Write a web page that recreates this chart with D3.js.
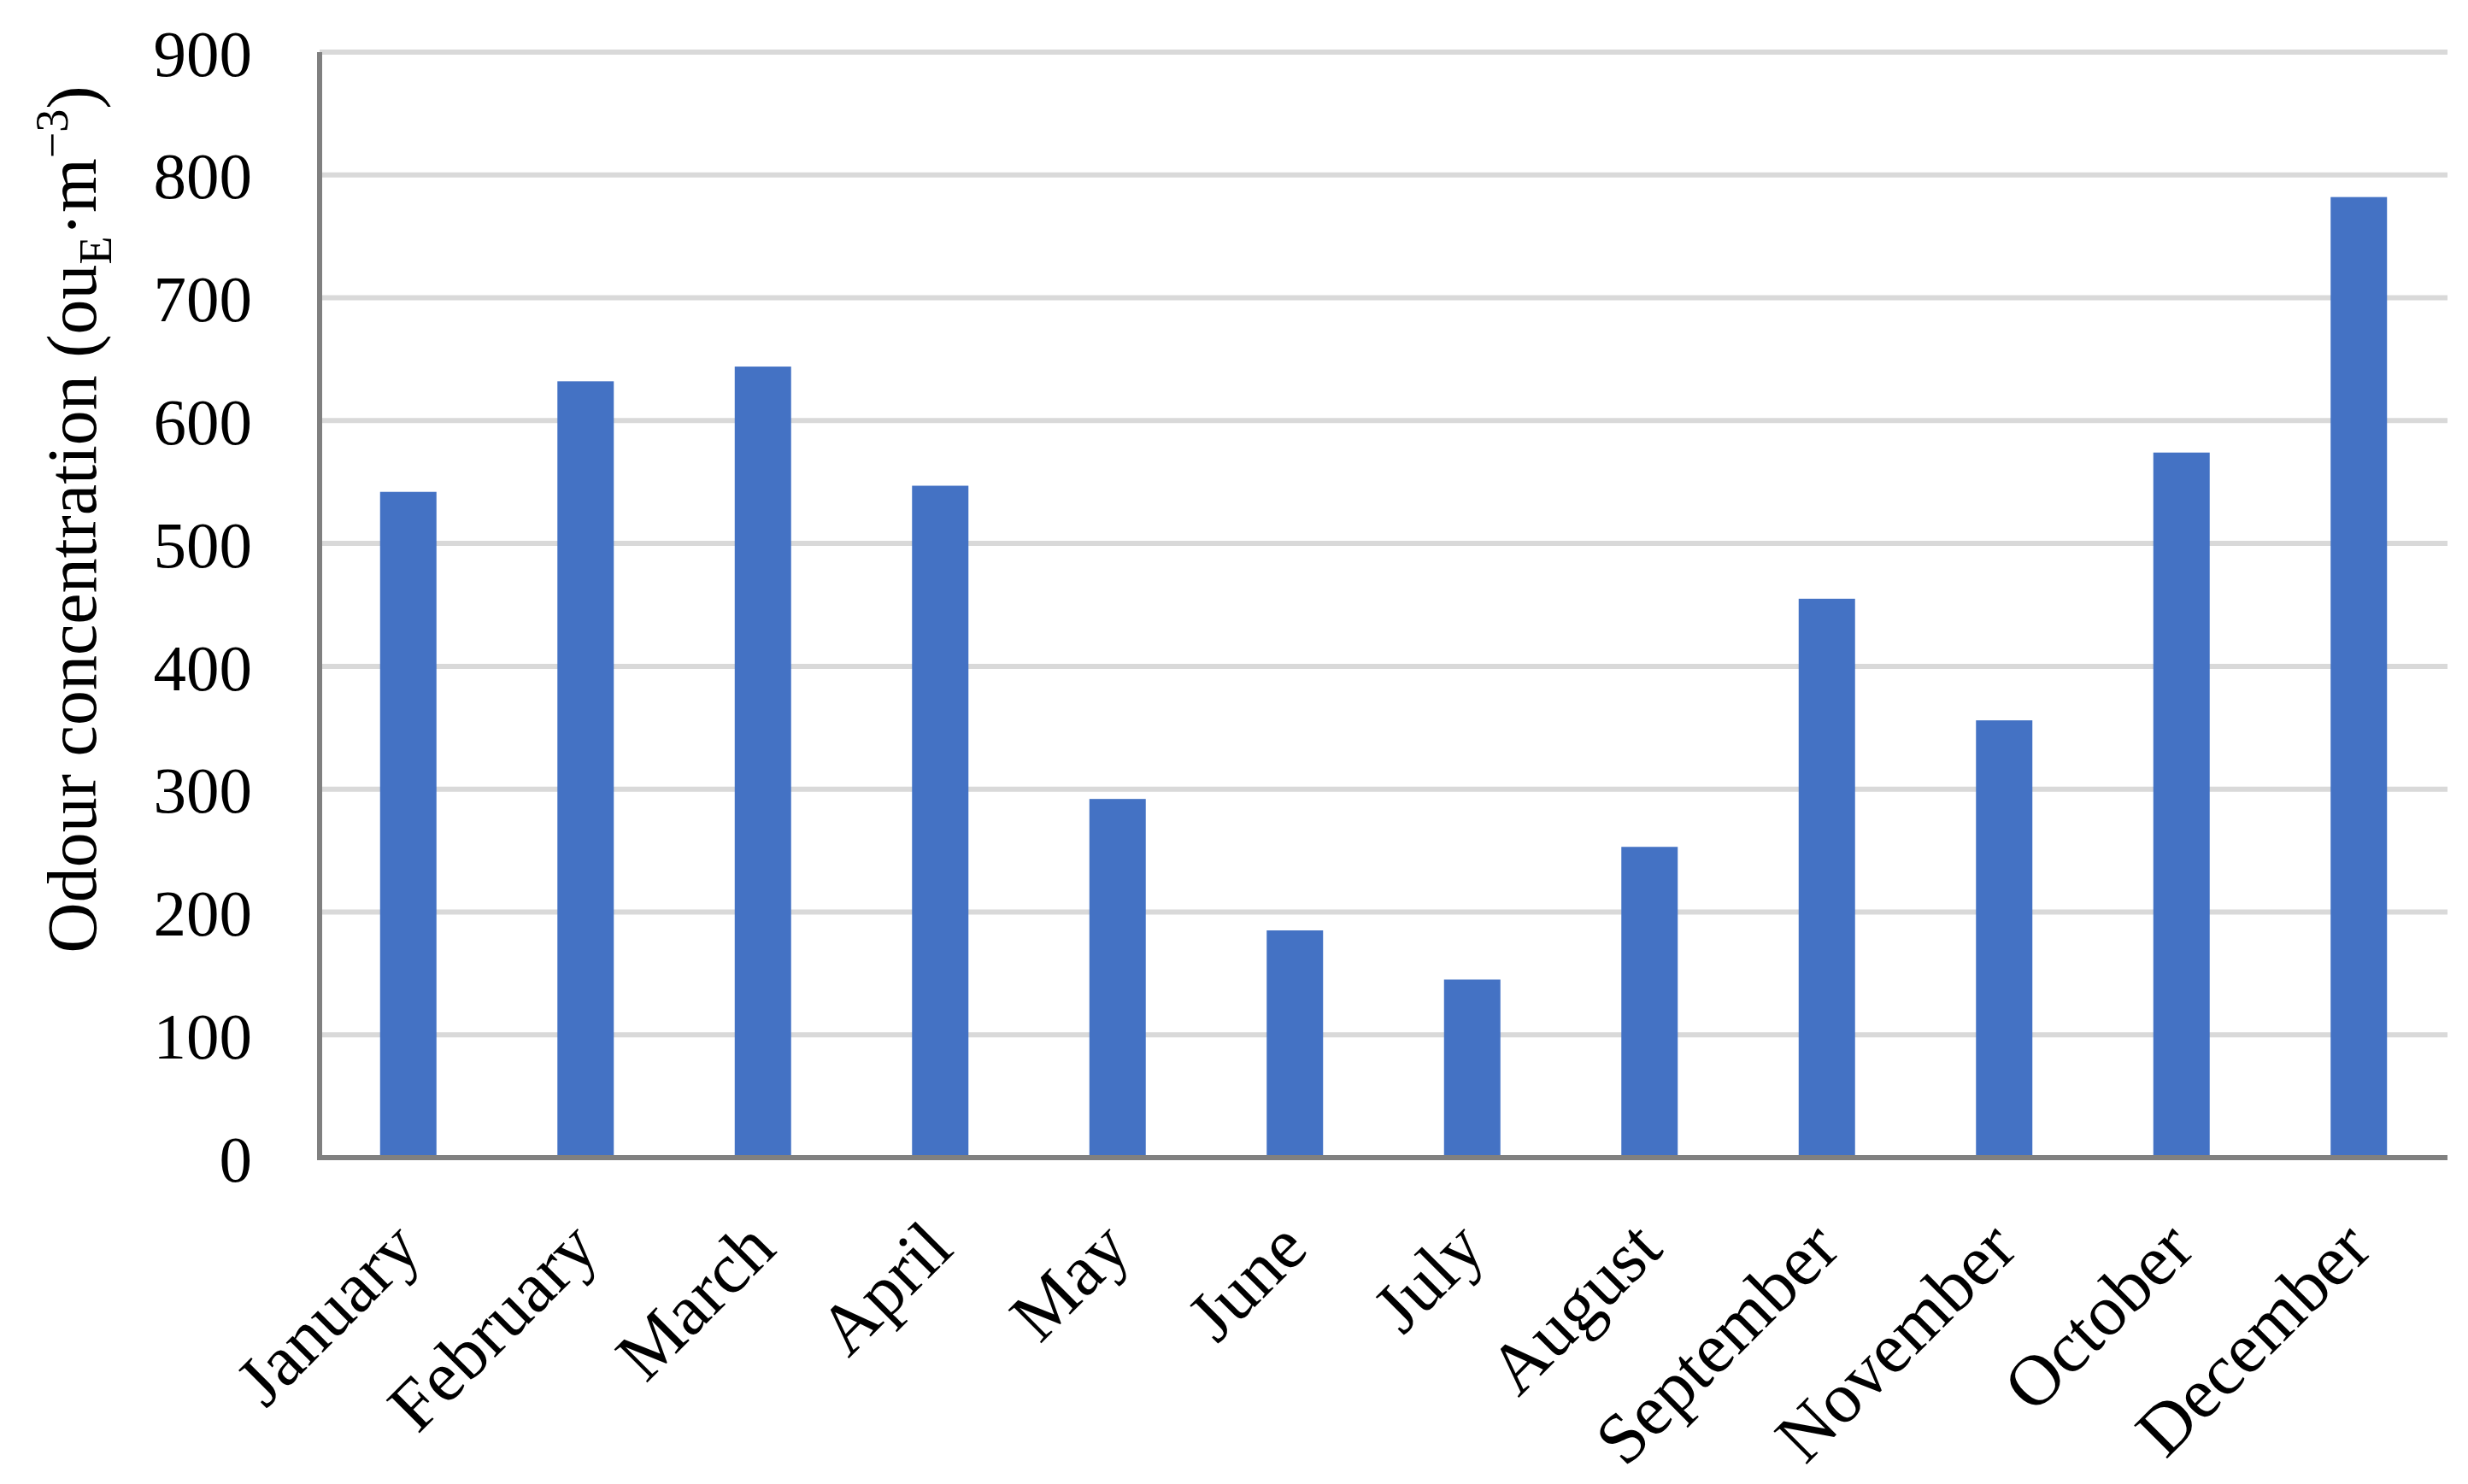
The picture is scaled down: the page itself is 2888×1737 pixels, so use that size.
<!DOCTYPE html>
<html><head><meta charset="utf-8">
<script src="https://cdn.jsdelivr.net/npm/d3@7"></script>
<style>body{margin:0;background:#fff}</style>
</head><body>
<svg id="chart" width="2888" height="1737"></svg>
<script>
const categories = ["January","February","March","April","May","June","July","August","September","November","October","December"];
const values = [542,632,644,547,292,185,145,253,455,356,574,782];
const yTicks = [0,100,200,300,400,500,600,700,800,900];

const svg = d3.select("#chart");
const x0 = 374, x1 = 2864, yTop = 61, yBot = 1355;
const FONT = "'Liberation Serif', serif";

const x = d3.scaleBand().domain(categories).range([x0, x1]).paddingInner(0.682).paddingOuter(0.341);
const y = d3.scaleLinear().domain([0, 900]).range([yBot, yTop]);

svg.append("rect").attr("width",2888).attr("height",1737).attr("fill","#fff");

// gridlines
svg.append("g").selectAll("line").data(yTicks.filter(d=>d>0)).join("line")
  .attr("x1", x0).attr("x2", x1)
  .attr("y1", d=>y(d)).attr("y2", d=>y(d))
  .attr("stroke","#d9d9d9").attr("stroke-width",6);

// bars
svg.append("g").selectAll("rect").data(values).join("rect")
  .attr("x", (d,i)=>x(categories[i]))
  .attr("width", x.bandwidth())
  .attr("y", d=>y(d))
  .attr("height", d=>y(0)-y(d))
  .attr("fill","#4472c4");

// axes lines
svg.append("line").attr("x1",x0).attr("x2",x0).attr("y1",yTop).attr("y2",yBot+3)
  .attr("stroke","#808080").attr("stroke-width",6);
svg.append("line").attr("x1",x0-3).attr("x2",x1).attr("y1",yBot).attr("y2",yBot)
  .attr("stroke","#808080").attr("stroke-width",6);

// y tick labels
svg.append("g").selectAll("text").data(yTicks).join("text")
  .attr("x", 295).attr("y", d=>y(d))
  .attr("dy","0.36em")
  .attr("text-anchor","end")
  .attr("font-family",FONT).attr("font-size",77)
  .text(d=>d);

// x labels
svg.append("g").selectAll("text").data(categories).join("text")
  .attr("transform", d=>`translate(${x(d)+x.bandwidth()/2+18},${yBot+110}) rotate(-45)`)
  .attr("text-anchor","end")
  .attr("font-family",FONT).attr("font-size",84)
  .text(d=>d);

// y title
const t = svg.append("text")
  .attr("transform","translate(112,608) rotate(-90)")
  .attr("text-anchor","middle")
  .attr("font-family",FONT).attr("font-size",82);
t.append("tspan").text("Odour concentration (ou");
t.append("tspan").attr("font-size",54).attr("dy",18).text("E");
t.append("tspan").attr("dy",-18).text("·m");
t.append("tspan").attr("font-size",54).attr("dy",-33).text("−3");
t.append("tspan").attr("dy",33).text(")");
</script>
</body></html>
